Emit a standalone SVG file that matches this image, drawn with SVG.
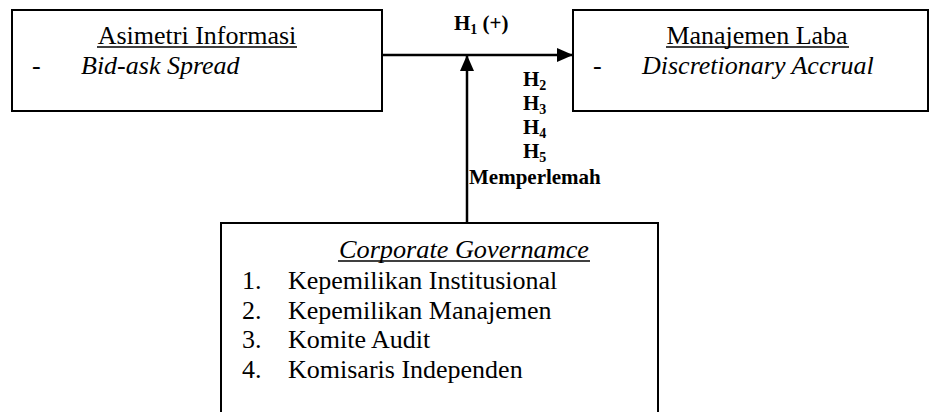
<svg xmlns="http://www.w3.org/2000/svg" width="932" height="412" viewBox="0 0 932 412">
<style>
.box{fill:#fff;stroke:#000;stroke-width:2}
text{font-family:'Liberation Serif','DejaVu Serif',serif;fill:#000}
.t{font-size:26px}
.i{font-style:italic}
.b{font-size:21px;font-weight:bold}
.sub{font-size:14px}
.ln{stroke:#000;stroke-width:2.5;fill:none}
.ul{stroke:#000;stroke-width:1.4}
</style>
<defs>
<marker id="ah" markerWidth="16" markerHeight="14" refX="16" refY="7" orient="auto" markerUnits="userSpaceOnUse">
<path d="M0,0 L16,7 L0,14 Z" fill="#000"/>
</marker>
</defs>
<rect width="932" height="412" fill="#fff"/>
<g id="asimetri">
<rect class="box" x="12" y="10" width="370" height="101"/>
<text class="t" x="197" y="44" text-anchor="middle">Asimetri Informasi</text>
<line class="ul" x1="97" y1="47" x2="297" y2="47"/>
<text class="t" x="32" y="74">-</text>
<text class="t i" x="81" y="74">Bid-ask Spread</text>
</g>
<g id="manajemen">
<rect class="box" x="573" y="10" width="355" height="101"/>
<text class="t" x="757" y="44" text-anchor="middle">Manajemen Laba</text>
<line class="ul" x1="666" y1="47" x2="849" y2="47"/>
<text class="t" x="593" y="74">-</text>
<text class="t i" x="642" y="74">Discretionary Accrual</text>
</g>
<g id="corporate">
<rect class="box" x="221" y="223" width="437" height="200"/>
<text class="t i" x="339" y="258" textLength="250" lengthAdjust="spacingAndGlyphs">Corporate Governamce</text>
<line class="ul" x1="338" y1="261" x2="590" y2="261"/>
<text class="t" x="242" y="289">1.</text>
<text class="t" x="288" y="289">Kepemilikan Institusional</text>
<text class="t" x="242" y="319">2.</text>
<text class="t" x="288" y="319">Kepemilikan Manajemen</text>
<text class="t" x="242" y="348">3.</text>
<text class="t" x="288" y="348">Komite Audit</text>
<text class="t" x="242" y="378">4.</text>
<text class="t" x="288" y="378">Komisaris Independen</text>
</g>
<g id="connectors">
<line class="ln" x1="382" y1="55" x2="573" y2="55" marker-end="url(#ah)"/>
<line class="ln" x1="467" y1="223" x2="467" y2="55" marker-end="url(#ah)"/>
<text class="b" x="454" y="30">H<tspan class="sub" dy="4">1</tspan><tspan dy="-4"> (+)</tspan></text>
<text class="b" x="523" y="86">H<tspan class="sub" dy="4">2</tspan></text>
<text class="b" x="523" y="110">H<tspan class="sub" dy="4">3</tspan></text>
<text class="b" x="523" y="134">H<tspan class="sub" dy="4">4</tspan></text>
<text class="b" x="523" y="158">H<tspan class="sub" dy="4">5</tspan></text>
<text class="b" x="469" y="184">Memperlemah</text>
</g>
</svg>
